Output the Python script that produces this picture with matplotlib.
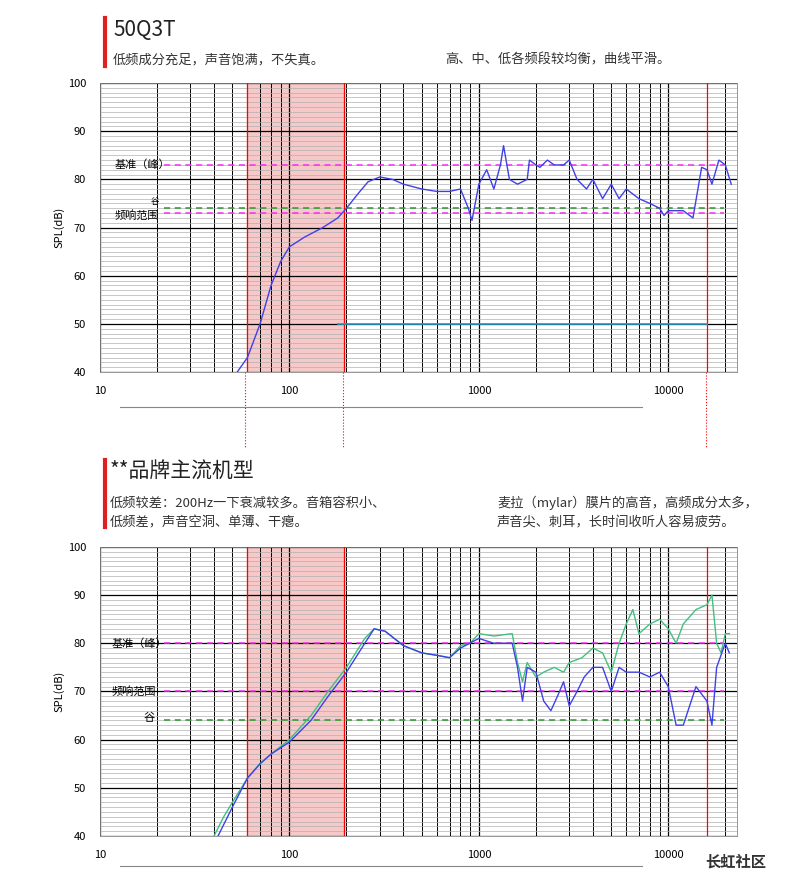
import matplotlib
matplotlib.use("Agg")
import matplotlib.pyplot as plt
from matplotlib.ticker import FixedLocator, NullFormatter, LogLocator
import numpy as np

plt.rcParams['font.family'] = ['Noto Sans CJK SC', 'DejaVu Sans']

top_f = [53,60,70,80,90,100,120,150,180,200,230,260,300,350,400,500,600,700,800,880,920,1000,1100,1200,1300,1350,1450,1600,1800,1850,2000,2100,2300,2500,2800,3000,3300,3700,4000,4500,5000,5500,6000,7000,8000,9000,9500,10000,12000,13500,15000,16000,17000,18500,20000,21500]
top_db = [40,43,50,58,63,66,68,70,72,74,77,79.5,80.5,80,79,78,77.5,77.5,78,74,71.5,79,82,78,83,87,80,79,80,84,83,82.5,84,83,83,84,80,78,80,76,79,76,78,76,75,74,72.5,73.5,73.5,72,82.5,82,79,84,83,79]

green_f = [40,45,50,60,70,80,100,130,160,200,250,280,320,400,500,600,700,800,900,1000,1200,1500,1600,1700,1800,2000,2200,2500,2800,3000,3500,4000,4500,5000,5500,6000,6500,7000,8000,9000,10000,11000,12000,14000,16000,17000,18000,19000,20000,21000]
green_db = [40,44,47,52,55,57,60,65,70,75,81,83,82.5,79.5,78,77.5,77,79.5,80,82,81.5,82,76,72,76,73,74,75,74,76,77,79,78,74,80,84,87,82,84,85,83,80,84,87,88,90,80,78,82,82]

blue_f = [42,50,60,70,80,100,130,160,200,250,280,320,400,500,600,700,800,1000,1200,1500,1600,1700,1800,2000,2200,2400,2600,2800,3000,3300,3600,4000,4500,5000,5500,6000,7000,8000,9000,10000,11000,12000,14000,16000,17000,18000,20000,21000]
blue_db = [40,46,52,55,57,59.5,64,69,74,80,83,82.5,79.5,78,77.5,77,79,81,80,80,75,68,75,74,68,66,69,72,67,70,73,75,75,70,75,74,74,73,74,71,63,63,71,68,63,75,80,78]

xticks = [10, 100, 1000, 10000]
xlabels = ['10', '100', '1000', '10000']
yticks = [40, 50, 60, 70, 80, 90, 100]

fig = plt.figure(figsize=(8, 8.88), dpi=100)

def setup(ax):
    ax.set_xscale('log')
    ax.set_xlim(10, 23000)
    ax.set_ylim(40, 100)
    ax.xaxis.set_major_locator(FixedLocator(xticks))
    ax.set_xticklabels(xlabels, fontsize=8)
    ax.xaxis.set_minor_locator(LogLocator(base=10, subs=range(2, 10)))
    ax.xaxis.set_minor_formatter(NullFormatter())
    ax.set_yticks(yticks)
    ax.set_yticklabels([str(v) for v in yticks], fontsize=8)
    ax.set_yticks(np.arange(40, 101, 1), minor=True)
    ax.grid(True, which='major', axis='both', color='black', lw=0.9)
    ax.grid(True, which='minor', axis='x', color='black', lw=0.7)
    ax.grid(True, which='minor', axis='y', color='#b0b0b0', lw=0.5)
    ax.tick_params(which='both', length=0, pad=10)
    ax.set_ylabel('SPL(dB)', fontsize=8, labelpad=2)
    for s in ax.spines.values():
        s.set_color('#888888')
        s.set_linewidth(0.6)
    ax.axvspan(60, 195, color='#f4b6b6', alpha=0.75, zorder=1.5)
    for x in (60, 195, 16000):
        ax.axvline(x, color='red', lw=0.9, zorder=3)

def hline(ax, y, color):
    ax.axhline(y, color=color, ls='--', lw=1.1, xmin=0.1, xmax=0.98, zorder=3.5, dashes=(4, 3))

MAG = '#f030f0'
GRN = '#2a9a2a'

ax1 = fig.add_axes([0.125, 0.581, 0.796, 0.3255])
setup(ax1)
hline(ax1, 83, MAG)
hline(ax1, 73, MAG)
hline(ax1, 74, GRN)
ax1.plot([180, 16000], [50, 50], color='#2a9ad0', lw=1.2, zorder=3)
ax1.plot(top_f, top_db, color='#4040e8', lw=1, zorder=4)
ax1.text(12, 83, '基准（峰）', fontsize=8, va='center', zorder=5)
ax1.text(12, 72.6, '频响范围', fontsize=8, va='center', zorder=5)
ax1.text(18.5, 75.4, '谷', fontsize=6, va='center', zorder=5)

ax2 = fig.add_axes([0.125, 0.0586, 0.796, 0.3255])
setup(ax2)
hline(ax2, 80, MAG)
hline(ax2, 70, MAG)
hline(ax2, 64, GRN)
ax2.plot(green_f, green_db, color='#40c080', lw=1, zorder=4)
ax2.plot(blue_f, blue_db, color='#4040e8', lw=1, zorder=4)
ax2.text(11.5, 80, '基准（峰）', fontsize=8, va='center', zorder=5)
ax2.text(11.5, 70, '频响范围', fontsize=8, va='center', zorder=5)
ax2.text(19.5, 64.5, '谷', fontsize=8, va='center', ha='right', zorder=5)

for xp in (245, 343, 706):
    fig.add_artist(plt.Line2D([xp/800, xp/800], [1-372/888, 1-448/888], color='red', ls=':', lw=0.8))
fig.add_artist(plt.Line2D([120/800, 642/800], [1-407/888, 1-407/888], color='#888888', lw=0.8))
fig.add_artist(plt.Line2D([120/800, 642/800], [1-866/888, 1-866/888], color='#888888', lw=0.8))

fig.add_artist(plt.Line2D([105/800, 105/800], [1-18/888, 1-66/888], color='#e02020', lw=3))
fig.text(113/800, 1-30/888, '50Q3T', fontsize=15, va='center', color='#222222')
fig.text(113/800, 1-60/888, '低频成分充足，声音饱满，不失真。', fontsize=9.5, va='center', color='#333333')
fig.text(445/800, 1-60/888, '高、中、低各频段较均衡，曲线平滑。', fontsize=9.5, va='center', color='#333333')

fig.add_artist(plt.Line2D([105/800, 105/800], [1-460/888, 1-527/888], color='#e02020', lw=3))
fig.text(110/800, 1-472/888, '**品牌主流机型', fontsize=15, va='center', color='#222222')
fig.text(110/800, 1-503/888, '低频较差：200Hz一下衰减较多。音箱容积小、', fontsize=9.5, va='center', color='#333333')
fig.text(110/800, 1-523/888, '低频差，声音空洞、单薄、干瘪。', fontsize=9.5, va='center', color='#333333')
fig.text(497/800, 1-503/888, '麦拉（mylar）膜片的高音，高频成分太多，', fontsize=9.5, va='center', color='#333333')
fig.text(497/800, 1-523/888, '声音尖、刺耳，长时间收听人容易疲劳。', fontsize=9.5, va='center', color='#333333')
fig.text(705/800, 1-862/888, '长虹社区', fontsize=11, va='center', color='#333333', weight='bold')

fig.savefig('out.png', dpi=100)
